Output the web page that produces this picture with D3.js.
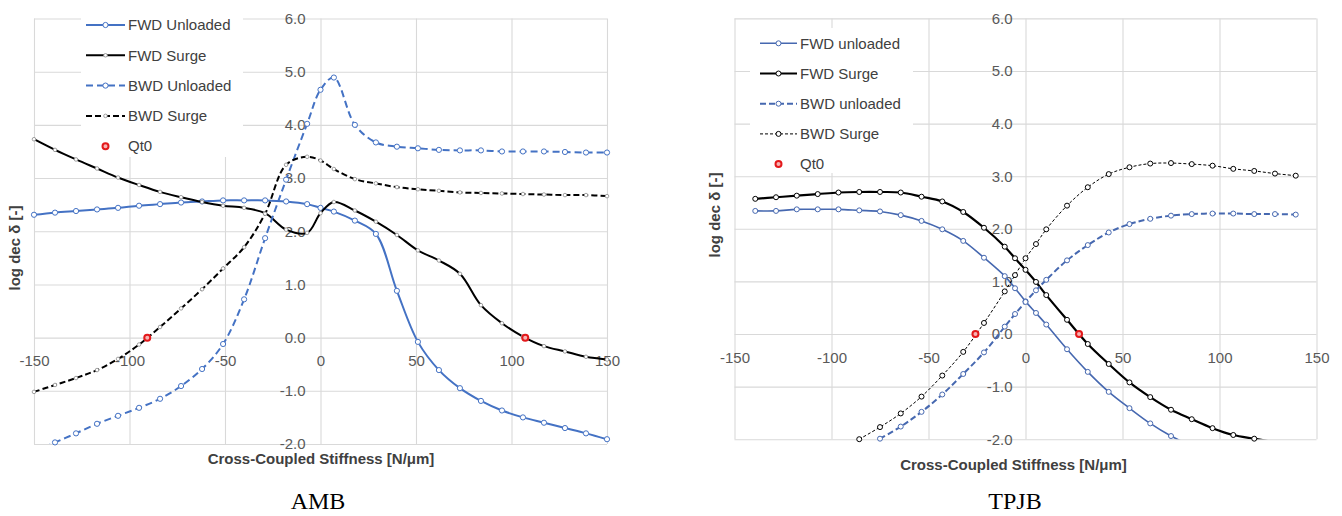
<!DOCTYPE html>
<html>
<head>
<meta charset="utf-8">
<script src="https://cdn.jsdelivr.net/npm/d3@7"></script>
<style>
  html, body { margin: 0; padding: 0; background: #ffffff; }
  svg { display: block; }
</style>
</head>
<body>
<svg id="chart" width="1342" height="516"></svg>
<script>
// ---------- AMB: log dec vs cross-coupled stiffness ----------
const ambStiffness = [-150, -139, -128, -117, -106, -95, -84, -73, -62, -51, -40, -29, -18, -7, 0,
                      7, 18, 29, 40, 51, 62, 73, 84, 95, 106, 117, 128, 139, 150];
const ambFwdUnloaded = [2.31, 2.35, 2.38, 2.41, 2.44, 2.48, 2.51, 2.54, 2.56, 2.58, 2.58, 2.58, 2.56, 2.51, 2.44,
                        2.37, 2.20, 1.95, 0.88, -0.08, -0.61, -0.95, -1.19, -1.37, -1.50, -1.60, -1.70, -1.80, -1.91];
const ambFwdSurge = [3.73, 3.53, 3.35, 3.18, 3.01, 2.87, 2.74, 2.64, 2.55, 2.48, 2.44, 2.34, 2.03, 1.97, 2.34,
                     2.55, 2.39, 2.18, 1.93, 1.64, 1.45, 1.20, 0.61, 0.27, 0.02, -0.16, -0.26, -0.36, -0.41];
const ambBwdUnloaded = [-2.15, -1.97, -1.80, -1.62, -1.47, -1.32, -1.15, -0.91, -0.59, -0.12, 0.72, 1.87, 2.97, 4.02, 4.66,
                        4.89, 4.00, 3.67, 3.59, 3.56, 3.53, 3.52, 3.52, 3.50, 3.50, 3.50, 3.49, 3.48, 3.48];
const ambBwdSurge = [-1.02, -0.89, -0.76, -0.61, -0.40, -0.13, 0.20, 0.55, 0.91, 1.30, 1.70, 2.33, 3.25, 3.40, 3.33,
                     3.17, 2.98, 2.90, 2.83, 2.79, 2.76, 2.73, 2.72, 2.71, 2.70, 2.69, 2.68, 2.68, 2.66];
const ambQt0Stiffness = [-90.7, 107.2];
const ambQt0LogDec = [0, 0];

// ---------- TPJB: log dec vs cross-coupled stiffness ----------
const tpjbStiffness = [-139.3, -128.6, -117.9, -107.1, -96.4, -85.7, -75, -64.3, -53.6, -42.9, -32.1, -21.4, -10.7, -5.4, 0,
                       5.4, 10.7, 21.4, 32.1, 42.9, 53.6, 64.3, 75, 85.7, 96.4, 107.1, 117.9, 128.6, 139.3];
const tpjbFwdUnloaded = [2.34, 2.34, 2.37, 2.37, 2.37, 2.35, 2.33, 2.26, 2.15, 1.99, 1.77, 1.45, 1.10, 0.87, 0.62,
                         0.40, 0.18, -0.29, -0.72, -1.10, -1.41, -1.70, -1.94, -2.13, null, null, null, null, null];
const tpjbFwdSurge = [2.57, 2.60, 2.63, 2.66, 2.69, 2.70, 2.70, 2.69, 2.61, 2.52, 2.32, 2.02, 1.66, 1.44, 1.22,
                      0.99, 0.74, 0.27, -0.19, -0.57, -0.92, -1.20, -1.44, -1.62, -1.79, -1.92, -1.99, -2.06, null];
const tpjbBwdUnloaded = [null, null, null, null, null, null, -1.99, -1.76, -1.48, -1.15, -0.76, -0.35, 0.14, 0.38, 0.61,
                         0.83, 1.03, 1.40, 1.69, 1.93, 2.09, 2.19, 2.25, 2.28, 2.29, 2.29, 2.28, 2.28, 2.27];
const tpjbBwdSurge = [null, null, null, null, null, -2.00, -1.77, -1.51, -1.19, -0.79, -0.34, 0.21, 0.81, 1.12, 1.44,
                      1.71, 1.99, 2.44, 2.79, 3.04, 3.17, 3.24, 3.25, 3.23, 3.20, 3.14, 3.10, 3.05, 3.01];
const tpjbQt0Stiffness = [-25.8, 27.6];
const tpjbQt0LogDec = [0, 0];

// ---------- axes ----------
const xTickValues = [-150, -100, -50, 0, 50, 100, 150];
const yTickValues = [-2, -1, 0, 1, 2, 3, 4, 5, 6];
const xDomain = [-150, 150];
const yDomain = [-2, 6];

const xTitle = "Cross-Coupled Stiffness [N/\u03bcm]";
const yTitle = "log dec \u03b4 [-]";

const FONT = "'Liberation Sans', Arial, sans-serif";
const TEXT_GRAY = "#595959";
const GRID = "#d9d9d9";
const QT0_RED = "#e3191b";

const svg = d3.select("#chart");

function drawPanel(cfg) {
  const g = svg.append("g");
  const x = d3.scaleLinear().domain(xDomain).range([cfg.left, cfg.right]);
  const y = d3.scaleLinear().domain(yDomain).range([cfg.bottom, cfg.top]);

  // gridlines
  const gx = g.append("g")
    .attr("transform", `translate(0,${cfg.bottom})`)
    .call(d3.axisBottom(x).tickValues(xTickValues).tickSize(-(cfg.bottom - cfg.top)).tickFormat(""));
  gx.select(".domain").remove();
  gx.selectAll("line").attr("stroke", GRID).attr("stroke-width", 1.1);

  const gy = g.append("g")
    .attr("transform", `translate(${cfg.left},0)`)
    .call(d3.axisLeft(y).tickValues(yTickValues).tickSize(-(cfg.right - cfg.left)).tickFormat(""));
  gy.select(".domain").remove();
  gy.selectAll("line").attr("stroke", GRID).attr("stroke-width", 1.1);

  // tick labels, crossing at the origin
  const lx = g.append("g")
    .attr("transform", `translate(0,${y(0)})`)
    .call(d3.axisBottom(x).tickValues(xTickValues).tickSize(0).tickPadding(18).tickFormat(d => String(d)));
  lx.select(".domain").remove();
  lx.selectAll("text").attr("font-family", FONT).attr("font-size", 15).attr("fill", TEXT_GRAY);

  const ly = g.append("g")
    .attr("transform", `translate(${x(0)},0)`)
    .call(d3.axisLeft(y).tickValues(yTickValues).tickSize(0).tickPadding(cfg.yLabelPad).tickFormat(d => d.toFixed(1)));
  ly.select(".domain").remove();
  ly.selectAll("text").attr("font-family", FONT).attr("font-size", 15).attr("fill", TEXT_GRAY);

  // clip region for the curves
  const clipId = "clip-" + cfg.id;
  svg.append("defs").append("clipPath").attr("id", clipId)
    .append("rect")
    .attr("x", cfg.left).attr("y", cfg.top)
    .attr("width", cfg.right - cfg.left).attr("height", cfg.bottom - cfg.top);

  const line = d3.line()
    .defined(d => d.v != null)
    .x(d => x(d.k))
    .y(d => y(d.v))
    .curve(d3.curveCatmullRom.alpha(0.5));

  cfg.series.forEach(s => {
    const pts = cfg.stiffness.map((k, i) => ({ k, v: s.values[i] }));
    g.append("path")
      .datum(pts)
      .attr("clip-path", `url(#${clipId})`)
      .attr("fill", "none")
      .attr("stroke", s.color)
      .attr("stroke-width", s.width)
      .attr("stroke-dasharray", s.dash || null)
      .attr("stroke-linejoin", "round")
      .attr("d", line);

    g.selectAll(null)
      .data(pts.filter(d => d.v != null && d.v >= yDomain[0] && d.v <= yDomain[1]))
      .join("circle")
      .attr("cx", d => x(d.k))
      .attr("cy", d => y(d.v))
      .attr("r", s.marker.r)
      .attr("fill", "#ffffff")
      .attr("stroke", s.marker.stroke)
      .attr("stroke-width", s.marker.width);
  });

  // Qt0 points (zero log dec crossings)
  const qt0 = cfg.qt0Stiffness.map((k, i) => ({ k, v: cfg.qt0LogDec[i] }));
  g.selectAll(null)
    .data(qt0)
    .join("circle")
    .attr("cx", d => x(d.k))
    .attr("cy", d => y(d.v))
    .attr("r", 3)
    .attr("fill", "#f7b3b3")
    .attr("stroke", QT0_RED)
    .attr("stroke-width", 2);

  // legend
  const lg = g.append("g");
  lg.append("rect")
    .attr("x", cfg.legend.box[0]).attr("y", cfg.legend.box[1])
    .attr("width", cfg.legend.box[2]).attr("height", cfg.legend.box[3])
    .attr("fill", "#ffffff");
  const entries = cfg.series.map(s => ({ name: s.name, s }))
    .concat([{ name: "Qt0", s: null }]);
  entries.forEach((e, i) => {
    const cy = cfg.legend.y0 + i * cfg.legend.step;
    const x0 = cfg.legend.x0, x1 = cfg.legend.x1, xm = (x0 + x1) / 2;
    if (e.s) {
      lg.append("line")
        .attr("x1", x0).attr("x2", x1).attr("y1", cy).attr("y2", cy)
        .attr("stroke", e.s.color).attr("stroke-width", e.s.width)
        .attr("stroke-dasharray", e.s.dash || null);
      lg.append("circle")
        .attr("cx", xm).attr("cy", cy).attr("r", e.s.marker.r)
        .attr("fill", "#ffffff").attr("stroke", e.s.marker.stroke).attr("stroke-width", e.s.marker.width);
    } else {
      lg.append("circle")
        .attr("cx", xm).attr("cy", cy).attr("r", 3)
        .attr("fill", "#f7b3b3").attr("stroke", QT0_RED).attr("stroke-width", 2);
    }
    lg.append("text")
      .attr("x", x1 + 3).attr("y", cy).attr("dy", "0.35em")
      .attr("font-family", FONT).attr("font-size", 15).attr("fill", "#404040")
      .text(e.name);
  });

  // axis titles
  g.append("text")
    .attr("x", cfg.xTitlePos[0]).attr("y", cfg.xTitlePos[1])
    .attr("text-anchor", "middle")
    .attr("font-family", FONT).attr("font-size", 15).attr("font-weight", "bold").attr("fill", "#404040")
    .text(xTitle);
  g.append("text")
    .attr("transform", `translate(${cfg.yTitlePos[0]},${cfg.yTitlePos[1]}) rotate(-90)`)
    .attr("text-anchor", "middle").attr("dy", "0.35em")
    .attr("font-family", FONT).attr("font-size", 15).attr("font-weight", "bold").attr("fill", "#404040")
    .text(yTitle);

  // caption under the chart
  g.append("text")
    .attr("x", cfg.captionPos[0]).attr("y", cfg.captionPos[1])
    .attr("text-anchor", "middle")
    .attr("font-family", "'Liberation Serif', 'Times New Roman', serif").attr("font-size", 24).attr("fill", "#000000")
    .text(cfg.caption);
}

const AMB_BLUE = "#4472c4";
const TPJB_BLUE = "#4668b0";

drawPanel({
  id: "amb",
  left: 34, right: 607, top: 18.5, bottom: 444,
  yLabelPad: 15,
  stiffness: ambStiffness,
  series: [
    { name: "FWD Unloaded", values: ambFwdUnloaded, color: AMB_BLUE, width: 2,
      marker: { r: 2.6, stroke: AMB_BLUE, width: 1 } },
    { name: "FWD Surge", values: ambFwdSurge, color: "#000000", width: 2,
      marker: { r: 1.8, stroke: "#8c8c8c", width: 0.8 } },
    { name: "BWD Unloaded", values: ambBwdUnloaded, color: AMB_BLUE, width: 2, dash: "7,4",
      marker: { r: 2.6, stroke: AMB_BLUE, width: 1 } },
    { name: "BWD Surge", values: ambBwdSurge, color: "#000000", width: 2, dash: "6,3",
      marker: { r: 1.8, stroke: "#8c8c8c", width: 0.8 } }
  ],
  qt0Stiffness: ambQt0Stiffness, qt0LogDec: ambQt0LogDec,
  legend: { box: [81, 4, 162, 153], x0: 86, x1: 125, y0: 25, step: 30.3 },
  xTitlePos: [321, 464],
  yTitlePos: [15, 248],
  caption: "AMB", captionPos: [318, 509]
});

drawPanel({
  id: "tpjb",
  left: 734.5, right: 1316.5, top: 18.4, bottom: 439.2,
  yLabelPad: 13,
  stiffness: tpjbStiffness,
  series: [
    { name: "FWD unloaded", values: tpjbFwdUnloaded, color: TPJB_BLUE, width: 1.6,
      marker: { r: 2.5, stroke: TPJB_BLUE, width: 1 } },
    { name: "FWD Surge", values: tpjbFwdSurge, color: "#000000", width: 2.2,
      marker: { r: 2.5, stroke: "#000000", width: 1 } },
    { name: "BWD unloaded", values: tpjbBwdUnloaded, color: TPJB_BLUE, width: 2, dash: "6,3",
      marker: { r: 2.5, stroke: TPJB_BLUE, width: 1 } },
    { name: "BWD Surge", values: tpjbBwdSurge, color: "#000000", width: 1, dash: "3,2",
      marker: { r: 2.5, stroke: "#000000", width: 1 } }
  ],
  qt0Stiffness: tpjbQt0Stiffness, qt0LogDec: tpjbQt0LogDec,
  legend: { box: [750, 28, 163, 145], x0: 760, x1: 797, y0: 43.3, step: 30.2 },
  xTitlePos: [1013.5, 470],
  yTitlePos: [715, 215],
  caption: "TPJB", captionPos: [1015, 509]
});
</script>
</body>
</html>
